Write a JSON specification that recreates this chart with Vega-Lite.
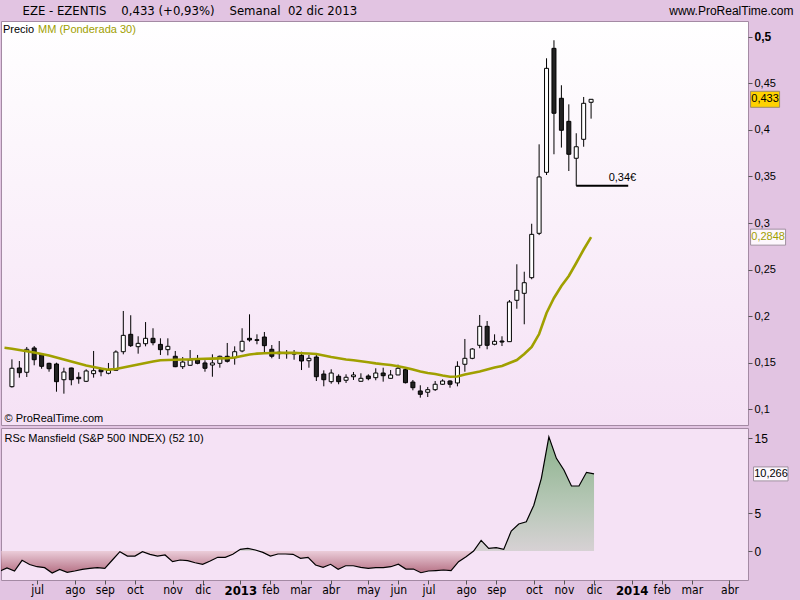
{
  "$schema": "https://vega.github.io/schema/vega-lite/v6.json",
  "background": "#e2c4e2",
  "padding": 0,
  "spacing": 1,
  "config": {
    "locale": {"number": {"decimal": ",", "thousands": ".", "grouping": [3], "currency": ["", "\u20ac"]}},
    "font": "Liberation Sans",
    "view": {"stroke": "#a48aa4", "strokeWidth": 1},
    "axis": {"grid": false, "domain": false, "labelFont": "Liberation Sans", "labelColor": "#000000", "tickColor": "#555555", "titleFont": "Liberation Sans", "titleFontWeight": "normal", "titleColor": "#000000"}
  },
  "datasets": {
    "w": [
      {"date":"2012-05-28","ma":0.1658,"rsc":-2.7},
      {"date":"2012-06-04","open":0.124,"high":0.1534,"low":0.123,"close":0.1438,"ma":0.1648,"rsc":-2.25},
      {"date":"2012-06-11","open":0.1441,"high":0.1516,"low":0.1337,"close":0.139,"ma":0.1634,"rsc":-2.66},
      {"date":"2012-06-18","open":0.1395,"high":0.1667,"low":0.1344,"close":0.1642,"ma":0.162,"rsc":-1.24},
      {"date":"2012-06-25","open":0.1656,"high":0.1677,"low":0.147,"close":0.153,"ma":0.1607,"rsc":-1.8},
      {"date":"2012-07-02","open":0.1588,"high":0.1595,"low":0.1433,"close":0.1459,"ma":0.1591,"rsc":-2.09},
      {"date":"2012-07-09","open":0.1491,"high":0.1498,"low":0.1401,"close":0.1433,"ma":0.1575,"rsc":-2.22},
      {"date":"2012-07-16","open":0.1484,"high":0.1498,"low":0.1186,"close":0.1294,"ma":0.1553,"rsc":-2.93},
      {"date":"2012-07-23","open":0.1315,"high":0.1444,"low":0.1165,"close":0.1398,"ma":0.1532,"rsc":-2.44},
      {"date":"2012-07-30","open":0.1441,"high":0.1444,"low":0.1255,"close":0.1315,"ma":0.151,"rsc":-2.84},
      {"date":"2012-08-06","open":0.1341,"high":0.1395,"low":0.1272,"close":0.1326,"ma":0.1489,"rsc":-2.66},
      {"date":"2012-08-13","open":0.1298,"high":0.1427,"low":0.129,"close":0.1409,"ma":0.1467,"rsc":-2.44},
      {"date":"2012-08-20","open":0.138,"high":0.1624,"low":0.1337,"close":0.1412,"ma":0.1452,"rsc":-2.3},
      {"date":"2012-08-27","open":0.1423,"high":0.1444,"low":0.1352,"close":0.1401,"ma":0.1435,"rsc":-2.22},
      {"date":"2012-09-03","open":0.1384,"high":0.1495,"low":0.1373,"close":0.1416,"ma":0.1423,"rsc":-2.3},
      {"date":"2012-09-10","open":0.1416,"high":0.1631,"low":0.1409,"close":0.1613,"ma":0.143,"rsc":-1.2},
      {"date":"2012-09-17","open":0.1616,"high":0.2054,"low":0.1588,"close":0.1792,"ma":0.1446,"rsc":-0.09},
      {"date":"2012-09-24","open":0.1803,"high":0.2008,"low":0.1667,"close":0.1681,"ma":0.1462,"rsc":-0.67},
      {"date":"2012-10-01","open":0.167,"high":0.1782,"low":0.1595,"close":0.1706,"ma":0.1478,"rsc":-0.67},
      {"date":"2012-10-08","open":0.1702,"high":0.1935,"low":0.1674,"close":0.176,"ma":0.1495,"rsc":-0.09},
      {"date":"2012-10-15","open":0.176,"high":0.1868,"low":0.1685,"close":0.1713,"ma":0.151,"rsc":-0.44},
      {"date":"2012-10-22","open":0.1695,"high":0.176,"low":0.1581,"close":0.1638,"ma":0.1524,"rsc":-0.67},
      {"date":"2012-10-29","open":0.1638,"high":0.176,"low":0.1577,"close":0.1674,"ma":0.1527,"rsc":-0.53},
      {"date":"2012-11-05","open":0.1567,"high":0.1624,"low":0.145,"close":0.1455,"ma":0.153,"rsc":-1.42},
      {"date":"2012-11-12","open":0.1455,"high":0.1559,"low":0.143,"close":0.1505,"ma":0.1532,"rsc":-1.2},
      {"date":"2012-11-19","open":0.147,"high":0.1634,"low":0.1465,"close":0.1527,"ma":0.1534,"rsc":-1.29},
      {"date":"2012-11-26","open":0.1527,"high":0.1581,"low":0.1481,"close":0.1491,"ma":0.1538,"rsc":-1.56},
      {"date":"2012-12-03","open":0.1495,"high":0.1524,"low":0.1401,"close":0.1438,"ma":0.154,"rsc":-1.77},
      {"date":"2012-12-10","open":0.1473,"high":0.1588,"low":0.1347,"close":0.1495,"ma":0.1542,"rsc":-1.33},
      {"date":"2012-12-17","open":0.1491,"high":0.1574,"low":0.1444,"close":0.1567,"ma":0.1544,"rsc":-0.84},
      {"date":"2012-12-24","open":0.1567,"high":0.171,"low":0.15,"close":0.1513,"ma":0.1546,"rsc":-0.84},
      {"date":"2012-12-31","open":0.1552,"high":0.1674,"low":0.1477,"close":0.1616,"ma":0.1553,"rsc":-0.44},
      {"date":"2013-01-07","open":0.1624,"high":0.1868,"low":0.161,"close":0.1728,"ma":0.157,"rsc":0.22},
      {"date":"2013-01-14","open":0.176,"high":0.2018,"low":0.1724,"close":0.1742,"ma":0.1586,"rsc":0.36},
      {"date":"2013-01-21","open":0.1745,"high":0.1803,"low":0.1696,"close":0.1738,"ma":0.1595,"rsc":0.13},
      {"date":"2013-01-28","open":0.1774,"high":0.1828,"low":0.1605,"close":0.1681,"ma":0.16,"rsc":-0.18},
      {"date":"2013-02-04","open":0.1642,"high":0.1688,"low":0.1545,"close":0.1567,"ma":0.1602,"rsc":-0.67},
      {"date":"2013-02-11","open":0.161,"high":0.1731,"low":0.1538,"close":0.1595,"ma":0.1604,"rsc":-0.4},
      {"date":"2013-02-18","open":0.1606,"high":0.1634,"low":0.1541,"close":0.1595,"ma":0.1605,"rsc":-0.4},
      {"date":"2013-02-25","open":0.159,"high":0.1634,"low":0.153,"close":0.1598,"ma":0.1604,"rsc":-0.44},
      {"date":"2013-03-04","open":0.1577,"high":0.1616,"low":0.1419,"close":0.1516,"ma":0.16,"rsc":-0.98},
      {"date":"2013-03-11","open":0.1519,"high":0.1581,"low":0.1444,"close":0.1545,"ma":0.1597,"rsc":-0.84},
      {"date":"2013-03-18","open":0.1559,"high":0.1588,"low":0.1301,"close":0.1347,"ma":0.1591,"rsc":-1.86},
      {"date":"2013-03-25","open":0.1376,"high":0.1416,"low":0.1244,"close":0.1315,"ma":0.1575,"rsc":-2.17},
      {"date":"2013-04-01","open":0.1294,"high":0.1427,"low":0.1272,"close":0.1387,"ma":0.1559,"rsc":-1.77},
      {"date":"2013-04-08","open":0.1352,"high":0.1373,"low":0.1266,"close":0.1294,"ma":0.1546,"rsc":-2.44},
      {"date":"2013-04-15","open":0.1309,"high":0.1373,"low":0.128,"close":0.1341,"ma":0.1532,"rsc":-1.96},
      {"date":"2013-04-22","open":0.1347,"high":0.1398,"low":0.1312,"close":0.1366,"ma":0.1524,"rsc":-1.96},
      {"date":"2013-04-29","open":0.1298,"high":0.1384,"low":0.1295,"close":0.133,"ma":0.1513,"rsc":-2.17},
      {"date":"2013-05-06","open":0.1355,"high":0.1373,"low":0.1309,"close":0.1326,"ma":0.1502,"rsc":-2.3},
      {"date":"2013-05-13","open":0.1337,"high":0.1438,"low":0.1309,"close":0.1387,"ma":0.1491,"rsc":-2.22},
      {"date":"2013-05-20","open":0.1387,"high":0.1444,"low":0.1294,"close":0.1358,"ma":0.1482,"rsc":-2.22},
      {"date":"2013-05-27","open":0.133,"high":0.1419,"low":0.1328,"close":0.1366,"ma":0.1473,"rsc":-2.09},
      {"date":"2013-06-03","open":0.1366,"high":0.1477,"low":0.1364,"close":0.1438,"ma":0.146,"rsc":-1.75},
      {"date":"2013-06-10","open":0.1423,"high":0.1444,"low":0.1275,"close":0.1283,"ma":0.1444,"rsc":-2.4},
      {"date":"2013-06-17","open":0.129,"high":0.1312,"low":0.1201,"close":0.1229,"ma":0.1424,"rsc":-2.4},
      {"date":"2013-06-24","open":0.1194,"high":0.1255,"low":0.1122,"close":0.1158,"ma":0.1403,"rsc":-2.89},
      {"date":"2013-07-01","open":0.118,"high":0.1237,"low":0.1129,"close":0.1208,"ma":0.1387,"rsc":-2.66},
      {"date":"2013-07-08","open":0.1208,"high":0.1301,"low":0.1194,"close":0.1266,"ma":0.1376,"rsc":-2.6},
      {"date":"2013-07-15","open":0.1266,"high":0.1319,"low":0.1258,"close":0.1301,"ma":0.136,"rsc":-2.53},
      {"date":"2013-07-22","open":0.1301,"high":0.1309,"low":0.1229,"close":0.1266,"ma":0.1347,"rsc":-2.62},
      {"date":"2013-07-29","open":0.128,"high":0.1513,"low":0.1244,"close":0.1459,"ma":0.1349,"rsc":-1.42},
      {"date":"2013-08-05","open":0.1481,"high":0.1753,"low":0.1401,"close":0.1545,"ma":0.1371,"rsc":-0.75},
      {"date":"2013-08-12","open":0.1545,"high":0.1655,"low":0.1535,"close":0.1645,"ma":0.1387,"rsc":0},
      {"date":"2013-08-19","open":0.1685,"high":0.2011,"low":0.1653,"close":0.1889,"ma":0.1403,"rsc":1.42},
      {"date":"2013-08-26","open":0.1889,"high":0.1946,"low":0.1642,"close":0.1685,"ma":0.1424,"rsc":0.36},
      {"date":"2013-09-02","open":0.1696,"high":0.1803,"low":0.1685,"close":0.1728,"ma":0.1446,"rsc":0.44},
      {"date":"2013-09-09","open":0.1731,"high":0.1782,"low":0.1677,"close":0.172,"ma":0.1462,"rsc":0.22},
      {"date":"2013-09-16","open":0.1724,"high":0.2172,"low":0.1724,"close":0.2151,"ma":0.1495,"rsc":2.66},
      {"date":"2013-09-23","open":0.2169,"high":0.2556,"low":0.2078,"close":0.2276,"ma":0.1527,"rsc":3.6},
      {"date":"2013-09-30","open":0.2244,"high":0.2476,"low":0.1911,"close":0.2358,"ma":0.1591,"rsc":3.9},
      {"date":"2013-10-07","open":0.2412,"high":0.2992,"low":0.2395,"close":0.2878,"ma":0.1667,"rsc":6.1},
      {"date":"2013-10-14","open":0.2889,"high":0.3846,"low":0.287,"close":0.3495,"ma":0.1806,"rsc":9.68},
      {"date":"2013-10-21","open":0.3545,"high":0.4771,"low":0.3516,"close":0.4663,"ma":0.2032,"rsc":15.2},
      {"date":"2013-10-28","open":0.4878,"high":0.4965,"low":0.3739,"close":0.418,"ma":0.2194,"rsc":12.34},
      {"date":"2013-11-04","open":0.4341,"high":0.4481,"low":0.3811,"close":0.3997,"ma":0.2323,"rsc":10.79},
      {"date":"2013-11-11","open":0.4093,"high":0.4276,"low":0.3559,"close":0.3739,"ma":0.243,"rsc":8.66},
      {"date":"2013-11-18","open":0.3696,"high":0.3965,"low":0.34,"close":0.382,"ma":0.257,"rsc":8.66},
      {"date":"2013-11-25","open":0.39,"high":0.4355,"low":0.382,"close":0.4287,"ma":0.2715,"rsc":10.48},
      {"date":"2013-12-02","open":0.4298,"high":0.433,"low":0.4122,"close":0.433,"ma":0.2848,"rsc":10.266}
    ],
    "last": [{"date":"2013-12-02","close":0.433,"ma":0.2848,"rsc":10.266}],
    "sup": [{"from":"2013-11-18","to":"2014-01-06","price":0.34,"label":"0,34\u20ac"}]
  },
  "vconcat": [
    {
      "width": 747,
      "height": 404,
      "view": {"fill": {"gradient": "linear", "x1": 0, "y1": 0, "x2": 0, "y2": 1, "stops": [{"offset": 0, "color": "#ffffff"}, {"offset": 1, "color": "#f5e1f5"}]}, "stroke": "#a48aa4"},
      "resolve": {"axis": {"x": "independent"}},
      "layer": [
        {
          "data": {"name": "w"},
          "mark": {"type": "rule", "color": "#000000", "strokeWidth": 1},
          "encoding": {
            "x": {"field": "date", "type": "temporal", "title": null,
              "scale": {"type": "utc", "domain": [{"year": 2012, "month": 5, "date": 29, "hours": 10, "utc": true}, {"year": 2014, "month": 4, "date": 24, "hours": 5, "utc": true}]},
              "axis": {"orient": "top", "values": [{"year": 2012, "month": 5, "date": 29, "hours": 10, "utc": true}, {"year": 2014, "month": 4, "date": 24, "hours": 5, "utc": true}],
                "ticks": false, "domain": false,
                "labelExpr": "datum.value > 1390000000000 ? 'www.ProRealTime.com' : 'EZE - EZENTIS\u00a0\u00a0\u00a0\u00a00,433 (+0,93%)\u00a0\u00a0\u00a0\u00a0Semanal\u00a0\u00a002 dic 2013'",
                "labelAlign": {"condition": {"test": "datum.value > 1390000000000", "value": "right"}, "value": "left"},
                "labelOffset": {"condition": {"test": "datum.value > 1390000000000", "value": 50}, "value": 16},
                "labelFont": {"condition": {"test": "datum.value > 1390000000000", "value": "Liberation Sans"}, "value": "Liberation Sans Narrow, DejaVu Sans Condensed, Liberation Sans"},
                "labelFontSize": {"condition": {"test": "datum.value > 1390000000000", "value": 12}, "value": 13},
                "labelPadding": 4, "labelLimit": 600, "labelOverlap": false, "labelFlush": false, "labelBound": false,
                "minExtent": 20, "maxExtent": 20}},
            "y": {"field": "low", "type": "quantitative", "title": null,
              "scale": {"domain": [0.0828, 0.5172], "zero": false, "nice": false},
              "axis": {"orient": "right", "values": [0.1, 0.15, 0.2, 0.25, 0.3, 0.35, 0.4, 0.45, 0.5], "format": ".2~f",
                "tickSize": 4, "labelPadding": 2,
                "labelFontSize": {"condition": {"test": "datum.value == 0.5", "value": 12}, "value": 11},
                "labelFontWeight": {"condition": {"test": "datum.value == 0.5", "value": "bold"}, "value": "normal"},
                "minExtent": 53, "maxExtent": 53}},
            "y2": {"field": "high"}
          }
        },
        {
          "data": {"name": "w"},
          "mark": {"type": "bar", "width": 4, "stroke": "#000000", "strokeWidth": 1},
          "encoding": {
            "x": {"field": "date", "type": "temporal", "scale": {"type": "utc"}, "title": "\u00a9 ProRealTime.com",
              "axis": {"orient": "bottom", "labels": false, "ticks": false, "domain": false, "titleX": 3, "titleY": -4, "titleAlign": "left", "titleAnchor": "start", "titleBaseline": "alphabetic", "titleFontSize": 11, "titleFontWeight": "normal", "minExtent": 0, "maxExtent": 0}},
            "y": {"field": "open", "type": "quantitative", "title": null},
            "y2": {"field": "close"},
            "fill": {"condition": {"test": "datum.close >= datum.open", "value": "#ffffff"}, "value": "#222222"}
          }
        },
        {
          "data": {"name": "w"},
          "mark": {"type": "line", "strokeWidth": 2.6, "clip": true},
          "encoding": {
            "x": {"field": "date", "type": "temporal", "scale": {"type": "utc"}, "axis": null, "title": null},
            "y": {"field": "ma", "type": "quantitative", "title": null},
            "color": {"datum": "MM (Ponderada 30)", "type": "nominal",
              "scale": {"domain": ["Precio", "MM (Ponderada 30)"], "range": ["#000000", "#a0a000"]},
              "legend": {"orient": "top-left", "direction": "horizontal", "title": null, "symbolSize": 0, "symbolStrokeWidth": 0, "symbolOpacity": 0, "labelOffset": -12, "columnPadding": 3, "offset": 3, "padding": 0, "labelFontSize": 11, "labelFont": "Liberation Sans",
                "labelColor": {"expr": "datum.value == 'Precio' ? '#000000' : '#a0a000'"}}}
          }
        },
        {
          "data": {"name": "sup"},
          "mark": {"type": "rule", "color": "#000000", "strokeWidth": 2},
          "encoding": {
            "x": {"field": "from", "type": "temporal", "scale": {"type": "utc"}, "axis": null, "title": null},
            "x2": {"field": "to"},
            "y": {"field": "price", "type": "quantitative", "title": null}
          }
        },
        {
          "data": {"name": "sup"},
          "mark": {"type": "text", "align": "right", "baseline": "bottom", "dx": 8, "dy": -3, "fontSize": 11, "font": "Liberation Sans", "color": "#000000"},
          "encoding": {
            "x": {"field": "to", "type": "temporal", "scale": {"type": "utc"}, "axis": null, "title": null},
            "y": {"field": "price", "type": "quantitative", "title": null},
            "text": {"field": "label"}
          }
        },
        {
          "data": {"name": "last"},
          "mark": {"type": "point", "shape": "M159.5,-8H188.5V8H159.5Z", "size": 4, "filled": true, "fill": "#ffd200", "stroke": "#9c8a6c", "strokeWidth": 1, "opacity": 1},
          "encoding": {
            "x": {"field": "date", "type": "temporal", "scale": {"type": "utc"}, "axis": null, "title": null},
            "y": {"field": "close", "type": "quantitative", "title": null}
          }
        },
        {
          "data": {"name": "last"},
          "mark": {"type": "text", "align": "center", "baseline": "middle", "dx": 174, "fontSize": 11, "font": "Liberation Sans", "color": "#000000"},
          "encoding": {
            "x": {"field": "date", "type": "temporal", "scale": {"type": "utc"}, "axis": null, "title": null},
            "y": {"field": "close", "type": "quantitative", "title": null},
            "text": {"field": "close", "type": "quantitative", "format": ".3f"}
          }
        },
        {
          "data": {"name": "last"},
          "mark": {"type": "point", "shape": "M159.5,-8H194.5V8H159.5Z", "size": 4, "filled": true, "fill": "#fdf7fd", "stroke": "#a090a0", "strokeWidth": 1, "opacity": 1},
          "encoding": {
            "x": {"field": "date", "type": "temporal", "scale": {"type": "utc"}, "axis": null, "title": null},
            "y": {"field": "ma", "type": "quantitative", "title": null}
          }
        },
        {
          "data": {"name": "last"},
          "mark": {"type": "text", "align": "center", "baseline": "middle", "dx": 177, "fontSize": 11, "font": "Liberation Sans", "color": "#a0a000"},
          "encoding": {
            "x": {"field": "date", "type": "temporal", "scale": {"type": "utc"}, "axis": null, "title": null},
            "y": {"field": "ma", "type": "quantitative", "title": null},
            "text": {"field": "ma", "type": "quantitative", "format": ".4f"}
          }
        }
      ]
    },
    {
      "width": 747,
      "height": 152,
      "view": {"fill": "#f5e2f5", "stroke": "#a48aa4"},
      "resolve": {"axis": {"x": "independent"}},
      "layer": [
        {
          "data": {"name": "w"},
          "mark": {"type": "area", "clip": true, "line": {"color": "#000000", "strokeWidth": 1.2},
            "color": {"gradient": "linear", "x1": 0, "y1": 0, "x2": 0, "y2": 1, "stops": [{"offset": 0, "color": "#5f9e5f"}, {"offset": 0.5, "color": "#9cbc9c"}, {"offset": 0.836, "color": "#cacac6"}, {"offset": 0.84, "color": "#e6c2cc"}, {"offset": 1, "color": "#9a4054"}]}},
          "encoding": {
            "x": {"field": "date", "type": "temporal", "title": null,
              "scale": {"type": "utc", "domain": [{"year": 2012, "month": 5, "date": 29, "hours": 10, "utc": true}, {"year": 2014, "month": 4, "date": 24, "hours": 5, "utc": true}]},
              "axis": {"orient": "bottom",
                "values": [{"year":2012,"month":7,"date":2,"utc":true},{"year":2012,"month":8,"date":6,"utc":true},{"year":2012,"month":9,"date":3,"utc":true},{"year":2012,"month":10,"date":1,"utc":true},{"year":2012,"month":11,"date":5,"utc":true},{"year":2012,"month":12,"date":3,"utc":true},{"year":2013,"month":1,"date":7,"utc":true},{"year":2013,"month":2,"date":4,"utc":true},{"year":2013,"month":3,"date":4,"utc":true},{"year":2013,"month":4,"date":1,"utc":true},{"year":2013,"month":5,"date":6,"utc":true},{"year":2013,"month":6,"date":3,"utc":true},{"year":2013,"month":7,"date":1,"utc":true},{"year":2013,"month":8,"date":5,"utc":true},{"year":2013,"month":9,"date":2,"utc":true},{"year":2013,"month":10,"date":7,"utc":true},{"year":2013,"month":11,"date":4,"utc":true},{"year":2013,"month":12,"date":2,"utc":true},{"year":2014,"month":1,"date":6,"utc":true},{"year":2014,"month":2,"date":3,"utc":true},{"year":2014,"month":3,"date":3,"utc":true},{"year":2014,"month":4,"date":7,"utc":true}],
                "labelExpr": "utcmonth(datum.value) == 0 ? utcFormat(datum.value, '%Y') : ['ene','feb','mar','abr','may','jun','jul','ago','sep','oct','nov','dic'][utcmonth(datum.value)]",
                "labelFont": "Liberation Sans Narrow, DejaVu Sans Condensed, Liberation Sans",
                "labelFontSize": {"condition": {"test": "utcmonth(datum.value) == 0", "value": 13}, "value": 12},
                "labelFontWeight": {"condition": {"test": "utcmonth(datum.value) == 0", "value": "bold"}, "value": "normal"},
                "tickSize": 4, "labelPadding": 0, "labelOverlap": false, "labelFlush": false, "labelBound": false,
                "minExtent": 22, "maxExtent": 22}},
            "y": {"field": "rsc", "type": "quantitative", "title": null,
              "scale": {"domain": [-3.86, 16.38], "zero": false, "nice": false},
              "axis": {"orient": "right", "values": [0, 5, 15], "format": "d", "tickSize": 4, "labelPadding": 2, "labelFontSize": 12, "minExtent": 53, "maxExtent": 53}},
            "y2": {"datum": 0}
          }
        },
        {
          "mark": {"type": "rule", "color": "#2b2bff", "strokeWidth": 1},
          "encoding": {"y": {"datum": 0, "type": "quantitative"}}
        },
        {
          "data": {"name": "last"},
          "mark": {"type": "point", "shape": "M159.5,-7H194V7H159.5Z", "size": 4, "filled": true, "fill": "#fdf7fd", "stroke": "#a090a0", "strokeWidth": 1, "opacity": 1},
          "encoding": {
            "x": {"field": "date", "type": "temporal", "scale": {"type": "utc"}, "title": "RSc Mansfield (S&P 500 INDEX) (52 10)",
              "axis": {"orient": "top", "labels": false, "ticks": false, "domain": false, "titleX": 3, "titleY": 13, "titleAlign": "left", "titleAnchor": "start", "titleBaseline": "alphabetic", "titleFontSize": 11, "titleFontWeight": "normal", "minExtent": 0, "maxExtent": 0}},
            "y": {"field": "rsc", "type": "quantitative", "title": null}
          }
        },
        {
          "data": {"name": "last"},
          "mark": {"type": "text", "align": "center", "baseline": "middle", "dx": 177, "fontSize": 11, "font": "Liberation Sans", "color": "#000000"},
          "encoding": {
            "x": {"field": "date", "type": "temporal", "scale": {"type": "utc"}, "axis": null, "title": null},
            "y": {"field": "rsc", "type": "quantitative", "title": null},
            "text": {"field": "rsc", "type": "quantitative", "format": ".3f"}
          }
        }
      ]
    }
  ]
}
